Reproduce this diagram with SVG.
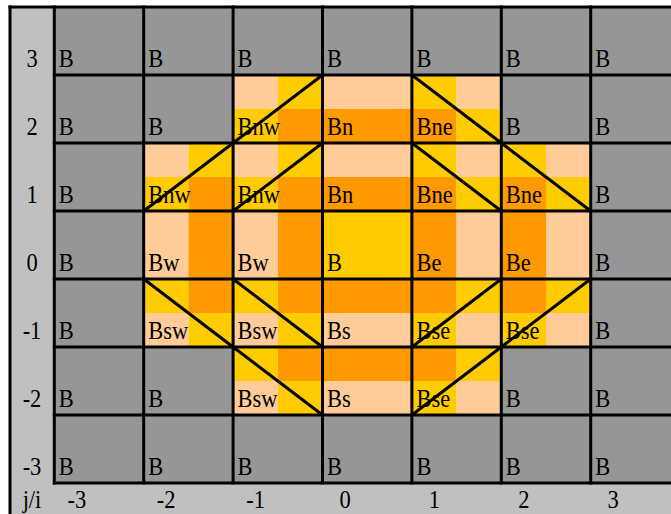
<svg xmlns="http://www.w3.org/2000/svg" width="671" height="514" viewBox="0 0 671 514">
<style>
.g{fill:#969696}.p{fill:#FFCC99}.o{fill:#FF9900}.y{fill:#FFCC00}.lg{fill:#C0C0C0}
text{font-family:"Liberation Serif","Times New Roman",serif;font-size:25px;fill:#000}
.m{text-anchor:middle}
.ln{stroke:#000;stroke-width:3;fill:none;stroke-linecap:square}
.dg{stroke:#000;stroke-width:3;fill:none}
</style>
<rect width="671" height="514" fill="#fff"/>
<g id="axes">
<rect class="lg" x="10" y="7" width="44.3" height="507"/>
<rect class="lg" x="10" y="483" width="661" height="31"/>
<text class="m" transform="translate(32 67) scale(0.9 1)">3</text>
<text class="m" transform="translate(32 135) scale(0.9 1)">2</text>
<text class="m" transform="translate(32 203) scale(0.9 1)">1</text>
<text class="m" transform="translate(32 271) scale(0.9 1)">0</text>
<text class="m" transform="translate(32 339) scale(0.9 1)">-1</text>
<text class="m" transform="translate(32 407) scale(0.9 1)">-2</text>
<text class="m" transform="translate(32 475) scale(0.9 1)">-3</text>
<text class="m" transform="translate(32 507.5) scale(0.9 1)">j/i</text>
<text class="m" transform="translate(76.8 507.5) scale(0.9 1)">-3</text>
<text class="m" transform="translate(166.2 507.5) scale(0.9 1)">-2</text>
<text class="m" transform="translate(255.6 507.5) scale(0.9 1)">-1</text>
<text class="m" transform="translate(345 507.5) scale(0.9 1)">0</text>
<text class="m" transform="translate(434.4 507.5) scale(0.9 1)">1</text>
<text class="m" transform="translate(523.8 507.5) scale(0.9 1)">2</text>
<text class="m" transform="translate(613.2 507.5) scale(0.9 1)">3</text>
</g>
<!-- row j=3 -->
<g id="c_m3_3"><rect class="g" x="54.3" y="7" width="89.4" height="68"/><text transform="translate(58.8 67) scale(0.9 1)">B</text></g>
<g id="c_m2_3"><rect class="g" x="143.7" y="7" width="89.4" height="68"/><text transform="translate(148.2 67) scale(0.9 1)">B</text></g>
<g id="c_m1_3"><rect class="g" x="233.1" y="7" width="89.4" height="68"/><text transform="translate(237.6 67) scale(0.9 1)">B</text></g>
<g id="c_0_3"><rect class="g" x="322.5" y="7" width="89.4" height="68"/><text transform="translate(327 67) scale(0.9 1)">B</text></g>
<g id="c_1_3"><rect class="g" x="411.9" y="7" width="89.4" height="68"/><text transform="translate(416.4 67) scale(0.9 1)">B</text></g>
<g id="c_2_3"><rect class="g" x="501.3" y="7" width="89.4" height="68"/><text transform="translate(505.8 67) scale(0.9 1)">B</text></g>
<g id="c_3_3"><rect class="g" x="590.7" y="7" width="89.4" height="68"/><text transform="translate(595.2 67) scale(0.9 1)">B</text></g>
<!-- row j=2 -->
<g id="c_m3_2"><rect class="g" x="54.3" y="75" width="89.4" height="68"/><text transform="translate(58.8 135) scale(0.9 1)">B</text></g>
<g id="c_m2_2"><rect class="g" x="143.7" y="75" width="89.4" height="68"/><text transform="translate(148.2 135) scale(0.9 1)">B</text></g>
<g id="c_m1_2"><rect class="p" x="233.1" y="75" width="44.7" height="34"/><rect class="y" x="277.8" y="75" width="44.7" height="34"/><rect class="y" x="233.1" y="109" width="44.7" height="34"/><rect class="o" x="277.8" y="109" width="44.7" height="34"/><text transform="translate(237.6 135) scale(0.9 1)">Bnw</text></g>
<g id="c_0_2"><rect class="p" x="322.5" y="75" width="89.4" height="34"/><rect class="o" x="322.5" y="109" width="89.4" height="34"/><text transform="translate(327 135) scale(0.9 1)">Bn</text></g>
<g id="c_1_2"><rect class="y" x="411.9" y="75" width="44.7" height="34"/><rect class="p" x="456.6" y="75" width="44.7" height="34"/><rect class="o" x="411.9" y="109" width="44.7" height="34"/><rect class="y" x="456.6" y="109" width="44.7" height="34"/><text transform="translate(416.4 135) scale(0.9 1)">Bne</text></g>
<g id="c_2_2"><rect class="g" x="501.3" y="75" width="89.4" height="68"/><text transform="translate(505.8 135) scale(0.9 1)">B</text></g>
<g id="c_3_2"><rect class="g" x="590.7" y="75" width="89.4" height="68"/><text transform="translate(595.2 135) scale(0.9 1)">B</text></g>
<!-- row j=1 -->
<g id="c_m3_1"><rect class="g" x="54.3" y="143" width="89.4" height="68"/><text transform="translate(58.8 203) scale(0.9 1)">B</text></g>
<g id="c_m2_1"><rect class="p" x="143.7" y="143" width="44.7" height="34"/><rect class="y" x="188.4" y="143" width="44.7" height="34"/><rect class="y" x="143.7" y="177" width="44.7" height="34"/><rect class="o" x="188.4" y="177" width="44.7" height="34"/><text transform="translate(148.2 203) scale(0.9 1)">Bnw</text></g>
<g id="c_m1_1"><rect class="p" x="233.1" y="143" width="44.7" height="34"/><rect class="y" x="277.8" y="143" width="44.7" height="34"/><rect class="y" x="233.1" y="177" width="44.7" height="34"/><rect class="o" x="277.8" y="177" width="44.7" height="34"/><text transform="translate(237.6 203) scale(0.9 1)">Bnw</text></g>
<g id="c_0_1"><rect class="p" x="322.5" y="143" width="89.4" height="34"/><rect class="o" x="322.5" y="177" width="89.4" height="34"/><text transform="translate(327 203) scale(0.9 1)">Bn</text></g>
<g id="c_1_1"><rect class="y" x="411.9" y="143" width="44.7" height="34"/><rect class="p" x="456.6" y="143" width="44.7" height="34"/><rect class="o" x="411.9" y="177" width="44.7" height="34"/><rect class="y" x="456.6" y="177" width="44.7" height="34"/><text transform="translate(416.4 203) scale(0.9 1)">Bne</text></g>
<g id="c_2_1"><rect class="y" x="501.3" y="143" width="44.7" height="34"/><rect class="p" x="546" y="143" width="44.7" height="34"/><rect class="o" x="501.3" y="177" width="44.7" height="34"/><rect class="y" x="546" y="177" width="44.7" height="34"/><text transform="translate(505.8 203) scale(0.9 1)">Bne</text></g>
<g id="c_3_1"><rect class="g" x="590.7" y="143" width="89.4" height="68"/><text transform="translate(595.2 203) scale(0.9 1)">B</text></g>
<!-- row j=0 -->
<g id="c_m3_0"><rect class="g" x="54.3" y="211" width="89.4" height="68"/><text transform="translate(58.8 271) scale(0.9 1)">B</text></g>
<g id="c_m2_0"><rect class="p" x="143.7" y="211" width="44.7" height="68"/><rect class="o" x="188.4" y="211" width="44.7" height="68"/><text transform="translate(148.2 271) scale(0.9 1)">Bw</text></g>
<g id="c_m1_0"><rect class="p" x="233.1" y="211" width="44.7" height="68"/><rect class="o" x="277.8" y="211" width="44.7" height="68"/><text transform="translate(237.6 271) scale(0.9 1)">Bw</text></g>
<g id="c_0_0"><rect class="y" x="322.5" y="211" width="89.4" height="68"/><text transform="translate(327 271) scale(0.9 1)">B</text></g>
<g id="c_1_0"><rect class="o" x="411.9" y="211" width="44.7" height="68"/><rect class="p" x="456.6" y="211" width="44.7" height="68"/><text transform="translate(416.4 271) scale(0.9 1)">Be</text></g>
<g id="c_2_0"><rect class="o" x="501.3" y="211" width="44.7" height="68"/><rect class="p" x="546" y="211" width="44.7" height="68"/><text transform="translate(505.8 271) scale(0.9 1)">Be</text></g>
<g id="c_3_0"><rect class="g" x="590.7" y="211" width="89.4" height="68"/><text transform="translate(595.2 271) scale(0.9 1)">B</text></g>
<!-- row j=-1 -->
<g id="c_m3_m1"><rect class="g" x="54.3" y="279" width="89.4" height="68"/><text transform="translate(58.8 339) scale(0.9 1)">B</text></g>
<g id="c_m2_m1"><rect class="y" x="143.7" y="279" width="44.7" height="34"/><rect class="o" x="188.4" y="279" width="44.7" height="34"/><rect class="p" x="143.7" y="313" width="44.7" height="34"/><rect class="y" x="188.4" y="313" width="44.7" height="34"/><text transform="translate(148.2 339) scale(0.9 1)">Bsw</text></g>
<g id="c_m1_m1"><rect class="y" x="233.1" y="279" width="44.7" height="34"/><rect class="o" x="277.8" y="279" width="44.7" height="34"/><rect class="p" x="233.1" y="313" width="44.7" height="34"/><rect class="y" x="277.8" y="313" width="44.7" height="34"/><text transform="translate(237.6 339) scale(0.9 1)">Bsw</text></g>
<g id="c_0_m1"><rect class="o" x="322.5" y="279" width="89.4" height="34"/><rect class="p" x="322.5" y="313" width="89.4" height="34"/><text transform="translate(327 339) scale(0.9 1)">Bs</text></g>
<g id="c_1_m1"><rect class="o" x="411.9" y="279" width="44.7" height="34"/><rect class="y" x="456.6" y="279" width="44.7" height="34"/><rect class="y" x="411.9" y="313" width="44.7" height="34"/><rect class="p" x="456.6" y="313" width="44.7" height="34"/><text transform="translate(416.4 339) scale(0.9 1)">Bse</text></g>
<g id="c_2_m1"><rect class="o" x="501.3" y="279" width="44.7" height="34"/><rect class="y" x="546" y="279" width="44.7" height="34"/><rect class="y" x="501.3" y="313" width="44.7" height="34"/><rect class="p" x="546" y="313" width="44.7" height="34"/><text transform="translate(505.8 339) scale(0.9 1)">Bse</text></g>
<g id="c_3_m1"><rect class="g" x="590.7" y="279" width="89.4" height="68"/><text transform="translate(595.2 339) scale(0.9 1)">B</text></g>
<!-- row j=-2 -->
<g id="c_m3_m2"><rect class="g" x="54.3" y="347" width="89.4" height="68"/><text transform="translate(58.8 407) scale(0.9 1)">B</text></g>
<g id="c_m2_m2"><rect class="g" x="143.7" y="347" width="89.4" height="68"/><text transform="translate(148.2 407) scale(0.9 1)">B</text></g>
<g id="c_m1_m2"><rect class="y" x="233.1" y="347" width="44.7" height="34"/><rect class="o" x="277.8" y="347" width="44.7" height="34"/><rect class="p" x="233.1" y="381" width="44.7" height="34"/><rect class="y" x="277.8" y="381" width="44.7" height="34"/><text transform="translate(237.6 407) scale(0.9 1)">Bsw</text></g>
<g id="c_0_m2"><rect class="o" x="322.5" y="347" width="89.4" height="34"/><rect class="p" x="322.5" y="381" width="89.4" height="34"/><text transform="translate(327 407) scale(0.9 1)">Bs</text></g>
<g id="c_1_m2"><rect class="o" x="411.9" y="347" width="44.7" height="34"/><rect class="y" x="456.6" y="347" width="44.7" height="34"/><rect class="y" x="411.9" y="381" width="44.7" height="34"/><rect class="p" x="456.6" y="381" width="44.7" height="34"/><text transform="translate(416.4 407) scale(0.9 1)">Bse</text></g>
<g id="c_2_m2"><rect class="g" x="501.3" y="347" width="89.4" height="68"/><text transform="translate(505.8 407) scale(0.9 1)">B</text></g>
<g id="c_3_m2"><rect class="g" x="590.7" y="347" width="89.4" height="68"/><text transform="translate(595.2 407) scale(0.9 1)">B</text></g>
<!-- row j=-3 -->
<g id="c_m3_m3"><rect class="g" x="54.3" y="415" width="89.4" height="68"/><text transform="translate(58.8 475) scale(0.9 1)">B</text></g>
<g id="c_m2_m3"><rect class="g" x="143.7" y="415" width="89.4" height="68"/><text transform="translate(148.2 475) scale(0.9 1)">B</text></g>
<g id="c_m1_m3"><rect class="g" x="233.1" y="415" width="89.4" height="68"/><text transform="translate(237.6 475) scale(0.9 1)">B</text></g>
<g id="c_0_m3"><rect class="g" x="322.5" y="415" width="89.4" height="68"/><text transform="translate(327 475) scale(0.9 1)">B</text></g>
<g id="c_1_m3"><rect class="g" x="411.9" y="415" width="89.4" height="68"/><text transform="translate(416.4 475) scale(0.9 1)">B</text></g>
<g id="c_2_m3"><rect class="g" x="501.3" y="415" width="89.4" height="68"/><text transform="translate(505.8 475) scale(0.9 1)">B</text></g>
<g id="c_3_m3"><rect class="g" x="590.7" y="415" width="89.4" height="68"/><text transform="translate(595.2 475) scale(0.9 1)">B</text></g>
<g id="grid" class="ln">
<path d="M10 7V514M54.3 7V483M143.7 7V483M233.1 7V483M322.5 7V483M411.9 7V483M501.3 7V483M590.7 7V483"/>
<path d="M10 7H680M54.3 75H680M54.3 143H680M54.3 211H680M54.3 279H680M54.3 347H680M54.3 415H680M54.3 483H680"/>
</g>
<g id="connectors" class="dg">
<line x1="233.1" y1="143" x2="322.5" y2="75"/>
<line x1="411.9" y1="75" x2="501.3" y2="143"/>
<line x1="143.7" y1="211" x2="233.1" y2="143"/>
<line x1="233.1" y1="211" x2="322.5" y2="143"/>
<line x1="411.9" y1="143" x2="501.3" y2="211"/>
<line x1="501.3" y1="143" x2="590.7" y2="211"/>
<line x1="143.7" y1="279" x2="233.1" y2="347"/>
<line x1="233.1" y1="279" x2="322.5" y2="347"/>
<line x1="411.9" y1="347" x2="501.3" y2="279"/>
<line x1="501.3" y1="347" x2="590.7" y2="279"/>
<line x1="233.1" y1="347" x2="322.5" y2="415"/>
<line x1="411.9" y1="415" x2="501.3" y2="347"/>
</g>
</svg>
